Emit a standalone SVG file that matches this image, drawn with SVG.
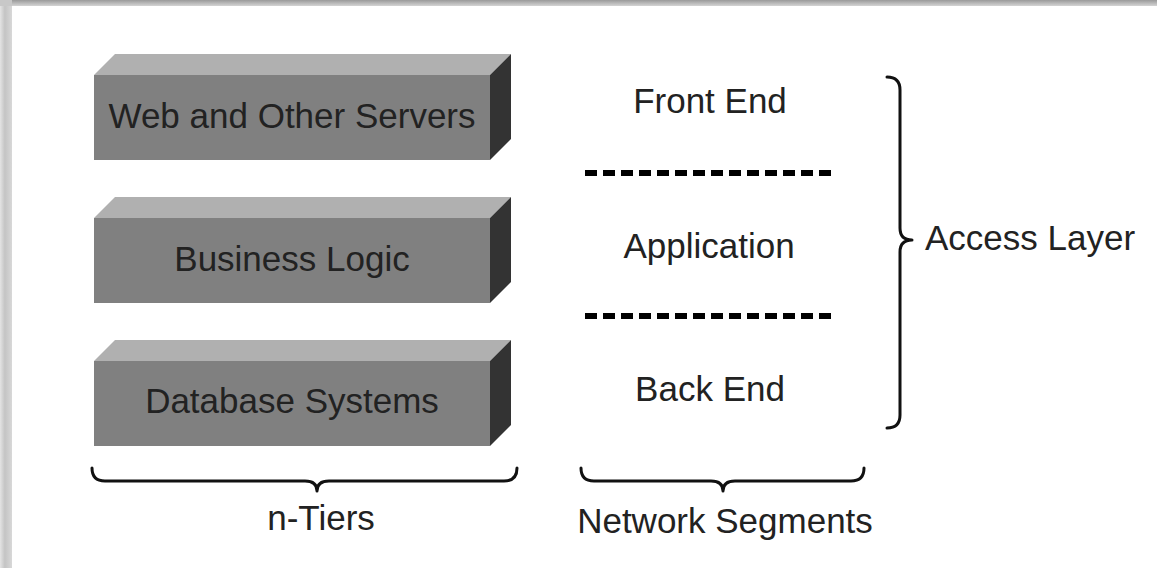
<svg xmlns="http://www.w3.org/2000/svg" width="1157" height="568" viewBox="0 0 1157 568">
<defs>
<linearGradient id="gTop" x1="0" y1="0" x2="0" y2="1">
<stop offset="0" stop-color="#9a9a9a"/>
<stop offset="1" stop-color="#d4d4d4"/>
</linearGradient>
<linearGradient id="gLeft" x1="0" y1="0" x2="1" y2="0">
<stop offset="0" stop-color="#e4e4e4"/>
<stop offset="0.4" stop-color="#c4c4c4"/>
<stop offset="1" stop-color="#d8d8d8"/>
</linearGradient>
</defs>
<style>
.front{fill:#808080;}
.top{fill:#b0b0b0;}
.side{fill:#333333;}
.lbl{font-family:"Liberation Sans",Arial,sans-serif;font-size:35px;fill:#222;text-anchor:middle;}
.brace{fill:none;stroke:#111;stroke-width:3;stroke-linecap:round;stroke-linejoin:round;}
.dash{stroke:#000;stroke-width:6;stroke-dasharray:12 6;}
</style>
<rect x="0" y="0" width="1157" height="568" fill="#ffffff"/>
<rect x="0" y="0" width="1157" height="6" fill="url(#gTop)"/>
<rect x="0" y="0" width="12" height="568" fill="url(#gLeft)"/>
<rect x="0" y="0" width="12" height="6" fill="#c8c8c8"/>

<g id="tier-web">
<polygon class="front" points="94,75 490,75 490,160 94,160"/>
<polygon class="top" points="94,75 115,54 511,54 490,75"/>
<polygon class="side" points="490,75 511,54 511,139 490,160"/>
<text class="lbl" x="292" y="128">Web and Other Servers</text>
</g>
<g id="tier-business">
<polygon class="front" points="94,218 490,218 490,303 94,303"/>
<polygon class="top" points="94,218 115,197 511,197 490,218"/>
<polygon class="side" points="490,218 511,197 511,282 490,303"/>
<text class="lbl" x="292" y="271">Business Logic</text>
</g>
<g id="tier-database">
<polygon class="front" points="94,361 490,361 490,446 94,446"/>
<polygon class="top" points="94,361 115,340 511,340 490,361"/>
<polygon class="side" points="490,361 511,340 511,425 490,446"/>
<text class="lbl" x="292" y="413">Database Systems</text>
</g>

<g id="seg-front"><text class="lbl" x="710" y="113">Front End</text></g>
<g id="seg-app"><text class="lbl" x="709" y="258">Application</text></g>
<g id="seg-back"><text class="lbl" x="710" y="401">Back End</text></g>

<g id="connectors">
<line class="dash" x1="585" y1="173" x2="835" y2="173"/>
<line class="dash" x1="585" y1="316" x2="835" y2="316"/>
<path class="brace" d="M887,77 Q900,77 900,90 L900,228 Q900,240 912,240 Q900,240 900,252 L900,415 Q900,428 887,428"/>
<path class="brace" d="M92,468 Q92,481 105,481 L305,481 Q317,481 317,491 Q317,481 329,481 L504,481 Q517,481 517,468"/>
<path class="brace" d="M581,468 Q581,481 594,481 L711,481 Q723,481 723,491 Q723,481 735,481 L851,481 Q864,481 864,468"/>
</g>

<g id="label-access"><text class="lbl" x="925" y="250" style="text-anchor:start">Access Layer</text></g>
<g id="label-ntiers"><text class="lbl" x="321" y="530">n-Tiers</text></g>
<g id="label-network"><text class="lbl" x="725" y="533">Network Segments</text></g>
</svg>
